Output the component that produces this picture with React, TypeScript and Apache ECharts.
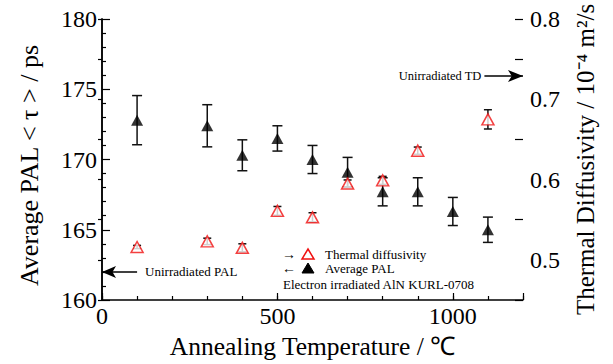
import React, { useEffect, useRef } from "react";
import * as echarts from "echarts";

// Annealing temperatures (°C)
const palTemperatures = [100, 300, 400, 500, 600, 700, 800, 900, 1000, 1100];
// Average positron annihilation lifetime (ps) and its error
const palValues = [172.8, 172.4, 170.3, 171.5, 170.0, 169.1, 167.7, 167.7, 166.3, 165.0];
const palErrors = [1.75, 1.5, 1.1, 0.9, 1.0, 1.05, 1.0, 1.0, 1.0, 0.9];

// Thermal diffusivity (10^-4 m^2/s) and its error
const tdTemperatures = [100, 300, 400, 500, 600, 700, 800, 900, 1100];
const tdValues = [0.516, 0.523, 0.515, 0.561, 0.553, 0.595, 0.599, 0.636, 0.675];
const tdErrors = [0.002, 0.004, 0.005, 0.0055, 0.0057, 0.0045, 0.005, 0.0045, 0.012];

// Reference levels for the unirradiated sample
const unirradiatedPAL = 162.0;
const unirradiatedTD = 0.729;

// Axis tick label sets
const xMajorLabels = [0, 500, 1000];
const rightLabels = [0.5, 0.6, 0.7, 0.8];

const FONT = "Liberation Serif, serif";
const TD_RED = "#f01010";

function errorBars(
  xs: number[],
  ys: number[],
  errs: number[],
  yAxisIndex: number,
  capHalf: number,
  z: number
) {
  return {
    type: "custom",
    xAxisIndex: 0,
    yAxisIndex,
    z,
    silent: true,
    data: xs.map((x, i) => [x, ys[i] - errs[i], ys[i] + errs[i]]),
    encode: { x: 0, y: [1, 2] },
    renderItem: (_params: any, api: any) => {
      const lo = api.coord([api.value(0), api.value(1)]);
      const hi = api.coord([api.value(0), api.value(2)]);
      const style = { stroke: "#111", lineWidth: 1.5 };
      return {
        type: "group",
        children: [
          { type: "line", shape: { x1: lo[0], y1: lo[1], x2: hi[0], y2: hi[1] }, style },
          { type: "line", shape: { x1: lo[0] - capHalf, y1: lo[1], x2: lo[0] + capHalf, y2: lo[1] }, style },
          { type: "line", shape: { x1: hi[0] - capHalf, y1: hi[1], x2: hi[0] + capHalf, y2: hi[1] }, style },
        ],
      };
    },
  };
}

export default function App() {
  const ref = useRef<HTMLDivElement>(null);

  useEffect(() => {
    if (!ref.current) return;
    const chart = echarts.init(ref.current, undefined, { renderer: "svg" });

    const axisLine = { show: true, lineStyle: { color: "#000", width: 1.5 } };
    const labelStyle = { color: "#000", fontFamily: FONT, fontSize: 24 };
    const smallText = { fontFamily: FONT, fontSize: 13, fill: "#000", lineHeight: 11 };

    chart.setOption({
      animation: false,
      backgroundColor: "#fff",
      textStyle: { fontFamily: FONT },
      grid: { left: 102, right: 90, top: 19, bottom: 60 },
      xAxis: [
        {
          type: "value",
          min: 0,
          max: 1200,
          interval: 100,
          name: "Annealing Temperature / ℃",
          nameLocation: "middle",
          nameGap: 33,
          nameTextStyle: { color: "#000", fontFamily: FONT, fontSize: 25.5 },
          axisLine,
          axisTick: { show: true, inside: true, length: 4, lineStyle: { color: "#000", width: 1.2 } },
          axisLabel: {
            ...labelStyle,
            margin: 4,
            formatter: (v: number) => (xMajorLabels.includes(v) ? String(v) : ""),
          },
          splitLine: { show: false },
        },
        {
          type: "value",
          min: 0,
          max: 1200,
          interval: 500,
          position: "bottom",
          axisLine: { show: false },
          axisTick: { show: true, inside: true, length: 7, lineStyle: { color: "#000", width: 1.2 } },
          axisLabel: { show: false },
          splitLine: { show: false },
        },
      ],
      yAxis: [
        {
          type: "value",
          min: 160,
          max: 180,
          interval: 5,
          position: "left",
          name: "Average PAL < τ > / ps",
          nameLocation: "middle",
          nameRotate: 90,
          nameGap: 60,
          nameTextStyle: { color: "#000", fontFamily: FONT, fontSize: 26, padding: [0, 12, 0, 0] },
          axisLine,
          axisTick: { show: true, inside: true, length: 8, lineStyle: { color: "#000", width: 1.2 } },
          minorTick: { show: true, splitNumber: 5, length: 4, lineStyle: { color: "#000", width: 1.2 } },
          axisLabel: { ...labelStyle, margin: 5 },
          splitLine: { show: false },
        },
        {
          type: "value",
          min: 0.45,
          max: 0.8,
          interval: 0.05,
          position: "right",
          name: "Thermal Diffusivity / 10⁻⁴ m²/s",
          nameLocation: "middle",
          nameRotate: 90,
          nameGap: 50,
          nameTextStyle: { color: "#000", fontFamily: FONT, fontSize: 25 },
          axisLine,
          axisTick: { show: true, inside: true, length: 4, lineStyle: { color: "#000", width: 1.2 } },
          axisLabel: {
            ...labelStyle,
            margin: 7,
            formatter: (v: number) => {
              const hit = rightLabels.find((r) => Math.abs(r - v) < 1e-6);
              return hit !== undefined ? hit.toFixed(1) : "";
            },
          },
          splitLine: { show: false },
        },
        {
          type: "value",
          min: 0.45,
          max: 0.8,
          interval: 0.1,
          position: "right",
          axisLine: { show: false },
          axisTick: { show: true, inside: true, length: 8, lineStyle: { color: "#000", width: 1.2 } },
          axisLabel: { show: false },
          splitLine: { show: false },
        },
      ],
      series: [
        errorBars(palTemperatures, palValues, palErrors, 0, 5, 2),
        {
          type: "scatter",
          name: "Average PAL",
          xAxisIndex: 0,
          yAxisIndex: 0,
          z: 3,
          silent: true,
          symbol: "triangle",
          symbolSize: [12, 11],
          itemStyle: { color: "#000" },
          data: palTemperatures.map((x, i) => [x, palValues[i]]),
          markLine: {
            silent: true,
            animation: false,
            symbol: ["arrow", "none"],
            symbolSize: [9, 14],
            lineStyle: { color: "#000", width: 1.5, type: "solid" },
            label: {
              show: true,
              position: "end",
              distance: 8,
              formatter: "Unirradiated PAL",
              color: "#000",
              fontFamily: FONT,
              fontSize: 13,
            },
            data: [[{ coord: [0, unirradiatedPAL] }, { coord: [100, unirradiatedPAL] }]],
          },
        },
        errorBars(tdTemperatures, tdValues, tdErrors, 1, 4, 4),
        {
          type: "scatter",
          name: "Thermal diffusivity",
          xAxisIndex: 0,
          yAxisIndex: 1,
          z: 5,
          silent: true,
          symbol: "triangle",
          symbolSize: [12, 11],
          itemStyle: { color: "#fff", borderColor: TD_RED, borderWidth: 1.5 },
          data: tdTemperatures.map((x, i) => [x, tdValues[i]]),
          markLine: {
            silent: true,
            animation: false,
            symbol: ["none", "arrow"],
            symbolSize: [9, 15],
            lineStyle: { color: "#000", width: 1.5, type: "solid" },
            label: {
              show: true,
              position: "start",
              distance: 3,
              formatter: "Unirradiated TD",
              color: "#000",
              fontFamily: FONT,
              fontSize: 12.5,
            },
            data: [[{ coord: [1090, unirradiatedTD] }, { coord: [1200, unirradiatedTD] }]],
          },
        },
      ],
      graphic: [
        {
          type: "text",
          x: 282,
          y: 254,
          style: { ...smallText, fontSize: 14, text: "→", verticalAlign: "middle" },
        },
        {
          type: "polygon",
          shape: { points: [[302, 259], [314, 259], [308, 249]] },
          style: { fill: "#fff", stroke: TD_RED, lineWidth: 1.5 },
        },
        { type: "text", x: 325, y: 254, style: { ...smallText, text: "Thermal diffusivity", verticalAlign: "middle" } },
        {
          type: "text",
          x: 282,
          y: 268,
          style: { ...smallText, fontSize: 14, text: "←", verticalAlign: "middle" },
        },
        {
          type: "polygon",
          shape: { points: [[302, 273], [314, 273], [308, 263]] },
          style: { fill: "#000", stroke: "#000", lineWidth: 1 },
        },
        { type: "text", x: 325, y: 268, style: { ...smallText, text: "Average PAL", verticalAlign: "middle" } },
        {
          type: "text",
          x: 283,
          y: 284,
          style: { ...smallText, text: "Electron irradiated AlN KURL-0708", verticalAlign: "middle" },
        },
      ],
    });

    return () => chart.dispose();
  }, []);

  return (
    <div
      ref={ref}
      style={{ position: "fixed", left: 0, top: 0, width: 613, height: 364, background: "#fff" }}
    />
  );
}
